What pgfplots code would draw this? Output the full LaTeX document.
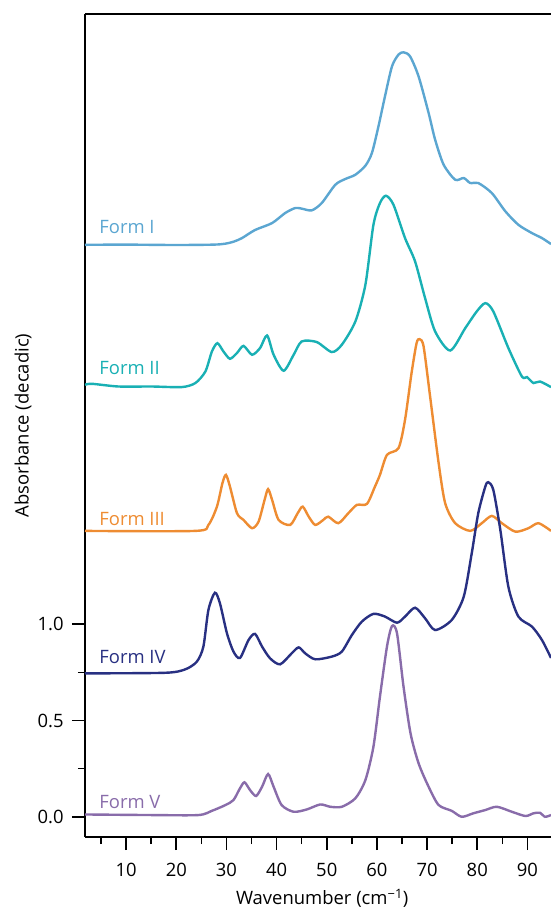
\documentclass[border=0pt]{standalone}
\usepackage{fontspec}
\setmainfont{Open Sans}
\usepackage{pgfplots}
\pgfplotsset{compat=1.18}
\usetikzlibrary{calc}
\definecolor{cI}{RGB}{91,166,209}
\definecolor{cII}{RGB}{25,176,180}
\definecolor{cIII}{RGB}{238,140,50}
\definecolor{cIV}{RGB}{40,48,130}
\definecolor{cV}{RGB}{137,108,170}
\newcommand{\fs}{\fontsize{18.5}{22}\selectfont}
\begin{document}
\fs
\begin{tikzpicture}
\begin{axis}[
  width=466bp, height=823bp, scale only axis,
  xmin=1.8, xmax=94.7, ymin=-0.105, ymax=4.17,
  axis x line*=bottom, axis y line*=left,
  axis line style={line width=1.6bp, black},
  tick align=outside,
  major tick length=13bp, minor tick length=7bp,
  every tick/.style={black, line width=1.6bp},
  xtick={10,20,...,90}, minor xtick={5,15,...,95},
  ytick={0,0.5,1}, minor ytick={0.25,0.75},
  /pgf/number format/assume math mode=true,
  tick label style={font=\fs},
  xticklabel style={yshift=-7bp},
  yticklabel style={xshift=-2bp, /pgf/number format/.cd, fixed, fixed zerofill, precision=1},
  label style={font=\fs},
  xlabel={Wavenumber (cm\textsuperscript{\char"2212 1})},
  ylabel={Absorbance (decadic)},
  xlabel style={at={(axis description cs:0.509,-0.0741)}, anchor=center},
  ylabel style={at={(axis description cs:-0.133,0.5)}, anchor=center},
  every axis plot/.append style={line width=2.4bp, smooth, tension=0.45},
]
\coordinate (sw) at (rel axis cs:0,0);
\coordinate (ne) at (rel axis cs:1,1);
\draw[line width=1.6bp, black] (rel axis cs:0,1) -- (rel axis cs:1,1);

% Form I
\addplot[cI] coordinates {
(1.8,2.971)(10,2.972)(20,2.970)(27.5,2.972)(29.8,2.977)(31.5,2.988)(33.1,3.006)(35.7,3.048)(39.1,3.084)(41.7,3.136)(43.7,3.162)(45.0,3.159)(47.0,3.150)(49.0,3.188)(51.7,3.283)(53.7,3.313)(55.7,3.335)(57.7,3.382)(59.0,3.448)(60.3,3.586)(61.6,3.742)(63.0,3.898)(64.3,3.959)(65.3,3.971)(66.6,3.950)(68.3,3.846)(70.3,3.656)(71.6,3.517)(73.3,3.387)(75.6,3.309)(77.3,3.318)(78.6,3.292)(80.2,3.292)(82.9,3.240)(85.6,3.145)(88.2,3.075)(90.9,3.032)(92.9,3.006)(94.7,2.975)
};
% Form II
\addplot[cII] coordinates {
(1.8,2.244)(3.2,2.249)(8.5,2.235)(15.1,2.235)(21.1,2.232)(23.8,2.253)(25.8,2.313)(27.1,2.417)(28.2,2.460)(29.4,2.417)(30.7,2.379)(32.1,2.409)(33.4,2.446)(35.1,2.400)(36.7,2.435)(38.1,2.500)(39.4,2.400)(41.4,2.317)(43.4,2.400)(45.0,2.469)(48.0,2.466)(51.0,2.414)(53.0,2.452)(55.7,2.573)(57.7,2.764)(59.3,3.075)(60.6,3.188)(61.8,3.226)(63.3,3.179)(65.6,3.006)(67.6,2.885)(69.6,2.694)(71.6,2.521)(74.6,2.422)(77.6,2.538)(79.9,2.625)(81.6,2.668)(83.2,2.625)(86.2,2.435)(88.9,2.287)(89.9,2.284)(91.2,2.253)(92.5,2.261)(94.7,2.232)
};
% Form III
\addplot[cIII] coordinates {
(1.8,1.485)(23.8,1.485)(26.4,1.516)(28.1,1.611)(29.2,1.733)(29.9,1.776)(30.7,1.715)(32.1,1.577)(33.4,1.542)(35.1,1.499)(36.4,1.533)(37.6,1.646)(38.3,1.702)(39.1,1.646)(40.4,1.542)(42.7,1.516)(44.2,1.577)(45.2,1.611)(46.4,1.559)(47.7,1.516)(49.3,1.542)(50.3,1.559)(52.3,1.525)(54.3,1.577)(56.0,1.620)(58.0,1.625)(59.6,1.715)(60.6,1.776)(62.0,1.880)(64.3,1.915)(65.6,2.062)(66.9,2.305)(67.9,2.460)(68.5,2.481)(69.3,2.443)(70.6,2.183)(72.3,1.837)(73.6,1.629)(75.6,1.525)(78.6,1.485)(80.9,1.525)(82.9,1.563)(84.9,1.525)(87.6,1.481)(90.2,1.499)(92.2,1.525)(94.7,1.485)
};
% Form IV
\addplot[cIV] coordinates {
(1.8,0.745)(17.8,0.748)(21.8,0.766)(24.1,0.806)(25.4,0.884)(26.4,1.074)(27.7,1.164)(28.7,1.109)(30.1,0.953)(31.4,0.858)(32.7,0.825)(34.4,0.918)(35.7,0.950)(37.1,0.884)(38.7,0.823)(40.7,0.792)(43.0,0.849)(44.4,0.880)(45.7,0.849)(47.7,0.818)(51.0,0.832)(53.0,0.858)(55.0,0.944)(57.0,1.014)(59.3,1.054)(61.6,1.040)(64.0,1.008)(65.6,1.040)(67.6,1.086)(69.6,1.031)(71.6,0.970)(74.9,1.022)(77.3,1.143)(78.9,1.369)(80.2,1.577)(81.6,1.715)(82.2,1.738)(83.2,1.698)(84.6,1.490)(86.2,1.195)(88.2,1.040)(90.9,0.988)(92.9,0.918)(94.7,0.825)
};
% Form V
\addplot[cV] coordinates {
(1.8,0.012)(15.1,0.009)(24.4,0.009)(27.1,0.031)(29.8,0.061)(31.4,0.087)(32.7,0.148)(33.6,0.179)(34.7,0.139)(35.9,0.108)(37.1,0.156)(38.3,0.222)(39.4,0.156)(41.0,0.061)(43.4,0.026)(46.0,0.038)(48.7,0.064)(50.7,0.052)(53.0,0.052)(55.7,0.096)(57.7,0.191)(59.3,0.364)(60.6,0.624)(62.0,0.884)(63.0,0.991)(64.0,0.953)(65.3,0.676)(66.7,0.433)(68.3,0.278)(70.3,0.156)(72.3,0.061)(74.9,0.031)(76.9,0.000)(79.2,0.018)(81.6,0.035)(83.9,0.052)(86.9,0.026)(89.6,0.004)(91.2,0.018)(92.5,0.021)(93.5,0.000)(94.7,0.009)
};

\node[anchor=west, text=cI, font=\fs] at (axis cs:3.4,3.065) {Form I};
\node[anchor=west, text=cII, font=\fs] at (axis cs:3.4,2.33) {Form II};
\node[anchor=west, text=cIII, font=\fs] at (axis cs:3.4,1.547) {Form III};
\node[anchor=west, text=cIV, font=\fs] at (axis cs:3.4,0.83) {Form IV};
\node[anchor=west, text=cV, font=\fs] at (axis cs:3.4,0.076) {Form V};
\end{axis}
\pgfresetboundingbox
\path ($(sw)+(-85bp,-70bp)$) rectangle ($(ne)+(0,14bp)$);
\end{tikzpicture}
\end{document}
